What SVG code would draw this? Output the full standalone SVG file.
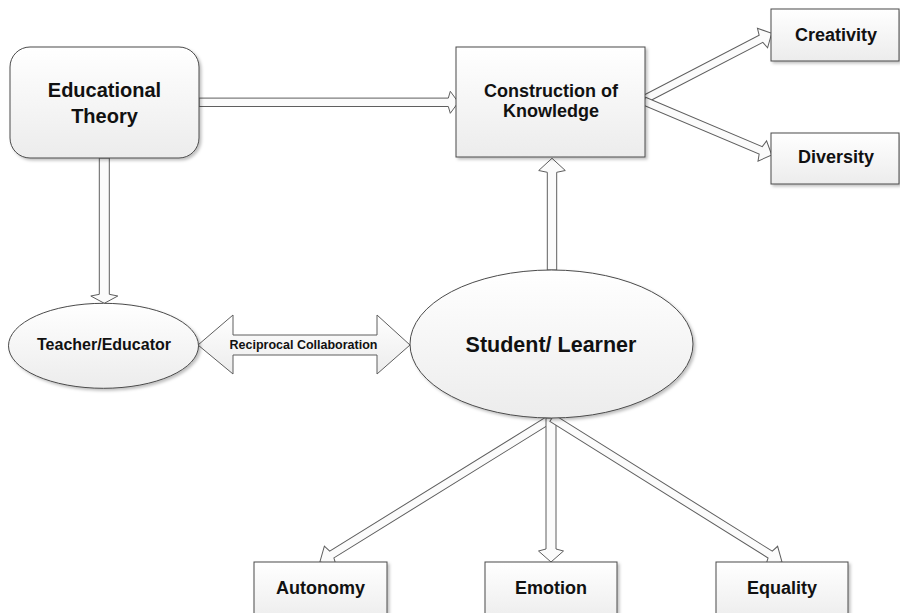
<svg xmlns="http://www.w3.org/2000/svg" width="900" height="613" viewBox="0 0 900 613">
<defs>
<linearGradient id="gfill" x1="0" y1="0" x2="0" y2="1">
<stop offset="0" stop-color="#ffffff"/>
<stop offset="1" stop-color="#ececec"/>
</linearGradient>
<filter id="shadow" x="-10%" y="-10%" width="130%" height="130%">
<feDropShadow dx="2" dy="2" stdDeviation="1.5" flood-color="#000" flood-opacity="0.25"/>
</filter>
<style>
.node{fill:url(#gfill);stroke:#4a4a4a;stroke-width:1;filter:url(#shadow)}
.arrow{fill:#fbfbfb;stroke:#5e5e5e;stroke-width:1;stroke-linejoin:miter}
.dbl{fill:url(#gfill);stroke:#5e5e5e;stroke-width:1}
text{font-family:"Liberation Sans",Arial,sans-serif;font-weight:bold;fill:#111;text-anchor:middle}
</style>
</defs>
<rect width="900" height="613" fill="#ffffff"/>
<g id="connectors">
<path class="arrow" transform="translate(199,102.3)" d="M0,-4.2 H249.3 L251.3,-11 L259.3,0 L251.3,11 L249.3,4.2 H0 Z"/>
<path class="arrow" transform="translate(104.3,158) rotate(90)" d="M0,-5 H136.3 L138,-13.5 L145.3,0 L138,13.5 L136.3,5 H0 Z"/>
<path class="arrow" transform="translate(552,270) rotate(-90)" d="M0,-4.7 H97.7 L99.5,-13.3 L111.7,0 L99.5,13.3 L97.7,4.7 H0 Z"/>
<path class="arrow" transform="translate(644,99.5) rotate(-27.4)" d="M0,-4 H131.8 L133.5,-11 L143.8,0 L133.5,11 L131.8,4 H0 Z"/>
<path class="arrow" transform="translate(644,101) rotate(22.9)" d="M0,-4 H126.7 L128.4,-11 L138.7,0 L128.4,11 L126.7,4 H0 Z"/>
<path class="arrow" transform="translate(552,418) rotate(148.2)" d="M0,-4 H259.1 L261,-11 L273.1,0 L261,11 L259.1,4 H0 Z"/>
<path class="arrow" transform="translate(551,418) rotate(90)" d="M0,-5 H131 L133,-12.5 L144,0 L133,12.5 L131,5 H0 Z"/>
<path class="arrow" transform="translate(552,418) rotate(32.05)" d="M0,-4 H257.4 L259.3,-11 L271.4,0 L259.3,11 L257.4,4 H0 Z"/>
<g id="reciprocal">
<polygon class="dbl" points="198,345 233,315 233,335 377,335 377,315 410,345 377,374 377,355 233,355 233,374"/>
<text x="303.5" y="349" font-size="12.5">Reciprocal Collaboration</text>
</g>
</g>
<g id="educational-theory">
<rect class="node" x="10" y="47" width="189" height="111" rx="20" ry="20"/>
<text x="104.5" y="97" font-size="20">Educational</text>
<text x="104.5" y="123" font-size="20">Theory</text>
</g>
<g id="construction">
<rect class="node" x="456" y="47" width="189" height="110"/>
<text x="551" y="97" font-size="18">Construction of</text>
<text x="551" y="117" font-size="18">Knowledge</text>
</g>
<g id="creativity">
<rect class="node" x="771" y="9" width="128" height="52"/>
<text x="836" y="41" font-size="18">Creativity</text>
</g>
<g id="diversity">
<rect class="node" x="771" y="133" width="128" height="51"/>
<text x="836" y="163" font-size="18">Diversity</text>
</g>
<g id="teacher">
<ellipse class="node" cx="103.5" cy="345.8" rx="95" ry="42.5"/>
<text x="104" y="350" font-size="16">Teacher/Educator</text>
</g>
<g id="student">
<ellipse class="node" cx="551.5" cy="344" rx="141.5" ry="74"/>
<text x="551" y="352" font-size="21.5">Student/ Learner</text>
</g>
<g id="autonomy">
<rect class="node" x="254" y="562" width="133" height="60"/>
<text x="320.5" y="594" font-size="18">Autonomy</text>
</g>
<g id="emotion">
<rect class="node" x="485" y="562" width="132" height="60"/>
<text x="551" y="594" font-size="18">Emotion</text>
</g>
<g id="equality">
<rect class="node" x="716" y="562" width="132" height="60"/>
<text x="782" y="594" font-size="18">Equality</text>
</g>
</svg>
